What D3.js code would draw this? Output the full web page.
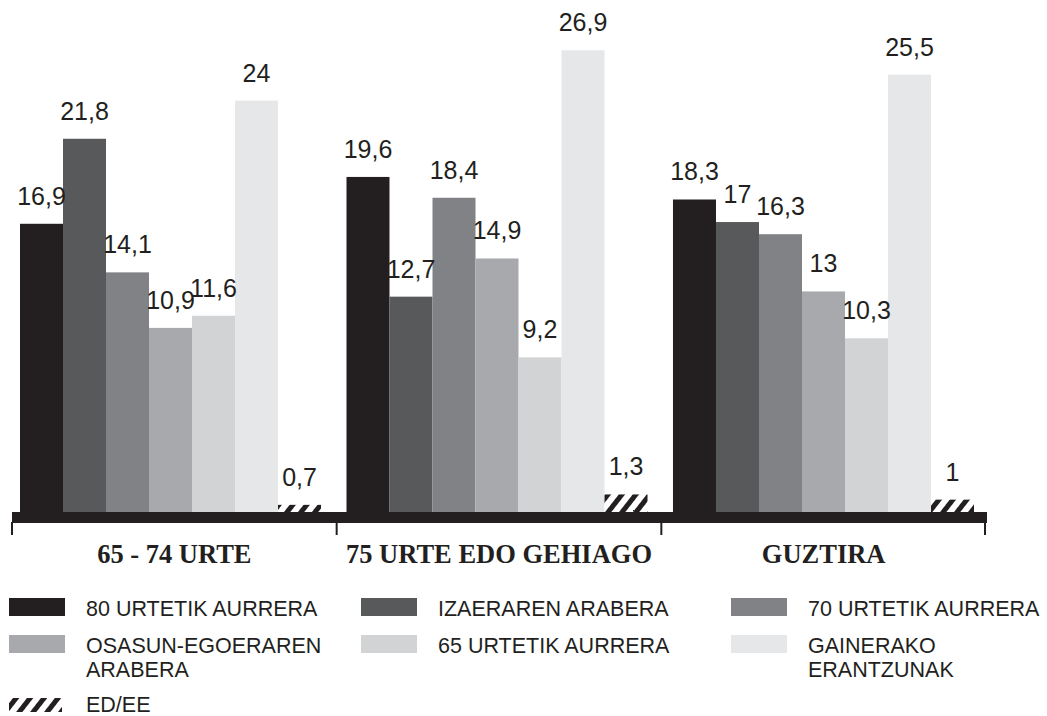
<!DOCTYPE html>
<html>
<head>
<meta charset="utf-8">
<script src="https://cdn.jsdelivr.net/npm/d3@7"></script>
<style>
  html, body { margin: 0; padding: 0; background: #ffffff; }
  svg { display: block; }
</style>
</head>
<body>
<svg id="chart" width="1047" height="716"></svg>
<script>
// ---- DATA ----
const groups = ["65 - 74 URTE", "75 URTE EDO GEHIAGO", "GUZTIRA"];
const seriesKeys = ["s80", "izaera", "s70", "osasun", "s65", "gainerako", "eded"];
const seriesLegend = [
  ["80 URTETIK AURRERA"],
  ["IZAERAREN ARABERA"],
  ["70 URTETIK AURRERA"],
  ["OSASUN-EGOERAREN", "ARABERA"],
  ["65 URTETIK AURRERA"],
  ["GAINERAKO", "ERANTZUNAK"],
  ["ED/EE"]
];
const vals80 = [16.9, 19.6, 18.3];
const valsIzaera = [21.8, 12.7, 17];
const vals70 = [14.1, 18.4, 16.3];
const valsOsasun = [10.9, 14.9, 13];
const vals65 = [11.6, 9.2, 10.3];
const valsGainerako = [24, 26.9, 25.5];
const valsEdee = [0.7, 1.3, 1];
const allValues = [vals80, valsIzaera, vals70, valsOsasun, vals65, valsGainerako, valsEdee];

// ---- STYLE ----
const colors = ["#231f20", "#58595b", "#808285", "#a7a9ac", "#d1d3d4", "#e6e7e8", "url(#hatch)"];
const ink = "#231f20";

const svg = d3.select("#chart");
const defs = svg.append("defs");
const pat = defs.append("pattern")
  .attr("id", "hatch")
  .attr("patternUnits", "userSpaceOnUse")
  .attr("width", 11).attr("height", 11)
  .attr("patternTransform", "rotate(38)");
pat.append("rect").attr("width", 11).attr("height", 11).attr("fill", "#ffffff");
pat.append("rect").attr("x", 0).attr("y", 0).attr("width", 5).attr("height", 11).attr("fill", ink);

// ---- SCALES ----
const baseY = 517;
const y = d3.scaleLinear().domain([0, 30]).range([baseY, baseY - 17.35 * 30]);
const xAxisScale = d3.scaleBand().domain(groups).range([12, 986]).padding(0);
const xBlock = d3.scaleBand().domain(groups).range([20, 974]).paddingInner(0.078).paddingOuter(0);
const xSeries = d3.scaleBand().domain(seriesKeys).range([0, xBlock.bandwidth()]).padding(0);

// ---- BARS ----
const data = [];
groups.forEach((g, gi) => {
  seriesKeys.forEach((k, si) => {
    data.push({ g, k, si, v: allValues[si][gi] });
  });
});

const barG = svg.append("g");
barG.selectAll("rect").data(data).join("rect")
  .attr("x", d => xBlock(d.g) + xSeries(d.k))
  .attr("y", d => y(d.v))
  .attr("width", xSeries.bandwidth())
  .attr("height", d => baseY - y(d.v))
  .attr("fill", d => colors[d.si]);

// value labels
svg.append("g").selectAll("text").data(data).join("text")
  .attr("x", d => xBlock(d.g) + xSeries(d.k) + xSeries.bandwidth() / 2)
  .attr("y", d => y(d.v) - 19)
  .attr("text-anchor", "middle")
  .attr("font-family", "'Liberation Sans', Arial, sans-serif")
  .attr("font-size", 25)
  .attr("fill", ink)
  .text(d => String(d.v).replace(".", ","));

// ---- AXIS ----
svg.append("rect")
  .attr("x", xAxisScale.range()[0])
  .attr("y", 512)
  .attr("width", xAxisScale.range()[1] - xAxisScale.range()[0] + 1)
  .attr("height", 11)
  .attr("fill", ink);

const tickPos = groups.map(g => xAxisScale(g)).concat([xAxisScale.range()[1] - 1]);
svg.append("g").selectAll("line").data(tickPos).join("line")
  .attr("x1", d => d).attr("x2", d => d)
  .attr("y1", 522).attr("y2", 535)
  .attr("stroke", ink).attr("stroke-width", 2);

svg.append("g").selectAll("text").data(groups).join("text")
  .attr("x", g => xAxisScale(g) + xAxisScale.bandwidth() / 2)
  .attr("y", 563)
  .attr("text-anchor", "middle")
  .attr("font-family", "'Liberation Serif', 'Times New Roman', serif")
  .attr("font-weight", "bold")
  .attr("font-size", 26.5)
  .attr("fill", ink)
  .text(g => g);

// ---- LEGEND ----
const legendCols = [9, 361, 731];
const legendRows = [598, 635, 697];
const legend = svg.append("g");
seriesKeys.forEach((k, i) => {
  const col = i % 3, row = Math.floor(i / 3);
  const lx = legendCols[col], ly = legendRows[row];
  const isHatch = i === 6;
  legend.append("rect")
    .attr("x", lx).attr("y", isHatch ? ly + 1 : ly)
    .attr("width", isHatch ? 53 : 56)
    .attr("height", isHatch ? 14 : 18)
    .attr("fill", colors[i]);
  const t = legend.append("text")
    .attr("x", lx + 77)
    .attr("y", isHatch ? ly + 15 : ly + 18)
    .attr("font-family", "'Liberation Sans', Arial, sans-serif")
    .attr("font-size", 21.5)
    .attr("fill", ink);
  seriesLegend[i].forEach((line, li) => {
    t.append("tspan").attr("x", lx + 77).attr("dy", li === 0 ? 0 : 24).text(line);
  });
});
</script>
</body>
</html>
